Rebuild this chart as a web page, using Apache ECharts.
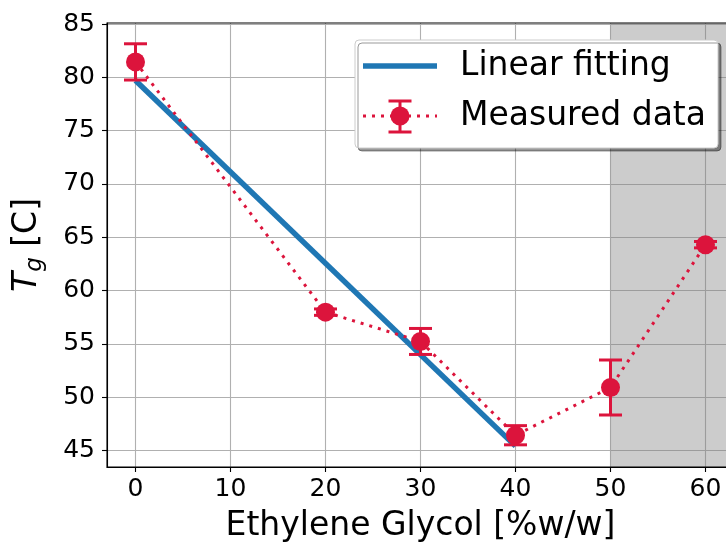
<!DOCTYPE html>
<html>
<head>
<meta charset="utf-8">
<script src="https://cdn.jsdelivr.net/npm/echarts@6/dist/echarts.min.js"></script>
<style>
  html, body { margin: 0; padding: 0; background: #fff; }
  #chart { width: 726px; height: 543px; }
</style>
</head>
<body>
<div id="chart"></div>
<script>
// measured Tg vs ethylene glycol content
const xValues = [0, 20, 30, 40, 50, 60];
const tgMean = [81.45, 57.97, 55.22, 46.42, 50.9, 64.3];
const tgErr = [1.7, 0.3, 1.22, 0.9, 2.58, 0.3];

// linear fit endpoints
const fitX = [0, 40];
const fitY = [79.7, 45.4];

const xTicks = [0, 10, 20, 30, 40, 50, 60];
const yTicks = [45, 50, 55, 60, 65, 70, 75, 80, 85];
const shadedRange = [50, 63];

const RED = '#dc143c';
const BLUE = '#1f77b4';
const FONT = 'DejaVu Sans';

const chart = echarts.init(document.getElementById('chart'), null, { renderer: 'canvas' });

function errorBarItem(params, api) {
	const x = api.value(0);
	const m = api.value(1);
	const e = api.value(2);
	const top = api.coord([x, m + e]);
	const bot = api.coord([x, m - e]);
	const half = 11.5;
	const style = { stroke: RED, lineWidth: 3 };
	return {
		type: 'group',
		children: [
			{ type: 'line', shape: { x1: top[0], y1: top[1], x2: bot[0], y2: bot[1] }, style },
			{ type: 'line', shape: { x1: top[0] - half, y1: top[1], x2: top[0] + half, y2: top[1] }, style },
			{ type: 'line', shape: { x1: bot[0] - half, y1: bot[1], x2: bot[0] + half, y2: bot[1] }, style },
		],
	};
}

// legend drawn by hand so the error-bar glyph can be shown
const LZ = 100;
const legendItems = [
	{
		type: 'rect',
		shape: { x: 355, y: 40, width: 363, height: 108, r: 4 },
		style: {
			fill: '#fff',
			stroke: '#cccccc',
			lineWidth: 1,
			shadowColor: 'rgba(0,0,0,0.4)',
			shadowOffsetX: 3,
			shadowOffsetY: 3,
		},
	},
	{ type: 'line', shape: { x1: 363, y1: 66, x2: 437, y2: 66 }, style: { stroke: BLUE, lineWidth: 5.5 } },
	{
		type: 'text',
		x: 460,
		y: 66,
		style: { text: 'Linear fitting', font: '33px "DejaVu Sans"', fill: '#000', verticalAlign: 'middle' },
	},
	{
		type: 'line',
		shape: { x1: 363, y1: 116, x2: 437, y2: 116 },
		style: { stroke: RED, lineWidth: 3, lineDash: [3, 6] },
	},
	{ type: 'line', shape: { x1: 400, y1: 101, x2: 400, y2: 132 }, style: { stroke: RED, lineWidth: 3 } },
	{ type: 'line', shape: { x1: 388.5, y1: 101, x2: 411.5, y2: 101 }, style: { stroke: RED, lineWidth: 3 } },
	{ type: 'line', shape: { x1: 388.5, y1: 132, x2: 411.5, y2: 132 }, style: { stroke: RED, lineWidth: 3 } },
	{ type: 'circle', shape: { cx: 400, cy: 116, r: 9.5 }, style: { fill: RED } },
	{
		type: 'text',
		x: 460,
		y: 116,
		style: { text: 'Measured data', font: '33px "DejaVu Sans"', fill: '#000', verticalAlign: 'middle' },
	},
].map((el, i) => Object.assign(el, { z: LZ + i, zlevel: 1 }));

const option = {
	animation: false,
	backgroundColor: '#fff',
	grid: {
		left: 107,
		right: -8,
		top: 23,
		bottom: 76,
		outerBoundsMode: 'none',
		containLabel: false,
		show: true,
		z: 10,
		borderColor: '#000',
		borderWidth: 1.1,
		backgroundColor: 'transparent',
	},
	xAxis: {
		type: 'value',
		min: -3,
		max: 63,
		name: 'Ethylene Glycol [%w/w]',
		nameLocation: 'middle',
		nameGap: 43,
		nameTextStyle: { fontFamily: FONT, fontSize: 33, color: '#000' },
		axisLine: { show: true, onZero: false, lineStyle: { color: '#000', width: 1.1 } },
		axisTick: { show: true, length: 5, customValues: xTicks, lineStyle: { color: '#000', width: 1.1 } },
		axisLabel: { customValues: xTicks, margin: 10, fontFamily: FONT, fontSize: 25, color: '#000' },
		splitLine: { show: true, lineStyle: { color: '#b0b0b0', width: 1.1 } },
	},
	yAxis: {
		type: 'value',
		min: 43.44,
		max: 85.1,
		name: '{it|T}{sub|g}{n| [C]}',
		nameLocation: 'middle',
		nameRotate: 90,
		nameGap: 60,
		nameTextStyle: {
			fontFamily: FONT,
			color: '#000',
			rich: {
				it: { fontFamily: FONT, fontStyle: 'italic', fontSize: 33, lineHeight: 40, verticalAlign: 'middle' },
				sub: { fontFamily: FONT, fontStyle: 'italic', fontSize: 23, lineHeight: 23, verticalAlign: 'bottom' },
				n: { fontFamily: FONT, fontSize: 33, lineHeight: 40, verticalAlign: 'middle' },
			},
		},
		axisLine: { show: true, onZero: false, lineStyle: { color: '#000', width: 1.1 } },
		axisTick: { show: true, length: 5, customValues: yTicks, lineStyle: { color: '#000', width: 1.1 } },
		axisLabel: { customValues: yTicks, margin: 12, fontFamily: FONT, fontSize: 25, color: '#000' },
		splitLine: { show: true, lineStyle: { color: '#b0b0b0', width: 1.1 } },
	},
	series: [
		{
			name: 'Linear fitting',
			type: 'line',
			data: fitX.map((x, i) => [x, fitY[i]]),
			showSymbol: false,
			lineStyle: { color: BLUE, width: 5.5, cap: 'butt' },
			z: 2,
			markArea: {
				silent: true,
				itemStyle: { color: 'rgba(128, 128, 128, 0.4)' },
				data: [[{ xAxis: shadedRange[0] }, { xAxis: shadedRange[1] }]],
			},
		},
		{
			name: 'Measured data',
			type: 'line',
			data: xValues.map((x, i) => [x, tgMean[i]]),
			symbol: 'circle',
			symbolSize: 19,
			itemStyle: { color: RED },
			lineStyle: { color: RED, width: 3, type: [3, 6] },
			z: 4,
		},
		{
			name: 'errors',
			type: 'custom',
			renderItem: errorBarItem,
			data: xValues.map((x, i) => [x, tgMean[i], tgErr[i]]),
			z: 3,
		},
	],
	graphic: legendItems,
};

chart.setOption(option);
</script>
</body>
</html>
